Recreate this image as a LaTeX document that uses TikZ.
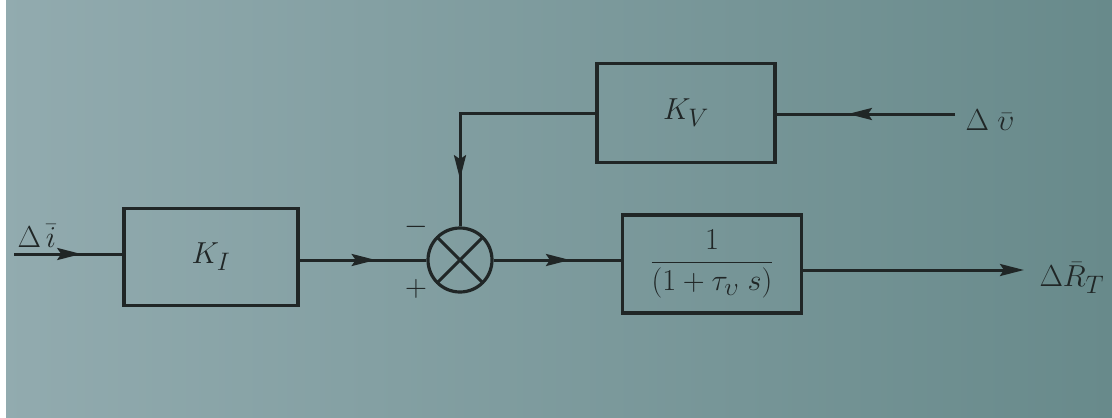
\documentclass[tikz,border=0pt]{standalone}
\usepackage{graphicx}
\usetikzlibrary{arrows.meta,decorations.markings}
\definecolor{bgl}{RGB}{146,171,175}
\definecolor{bgr}{RGB}{104,138,139}
\definecolor{ink}{RGB}{32,38,38}
\newcommand{\bigtxt}[1]{\scalebox{1.22}{\fontsize{24.88}{30}\selectfont #1}}
\begin{document}
\begin{tikzpicture}[x=1pt,y=-1pt,
  line width=3pt, draw=ink,
  blk/.style={draw=ink, line width=3.2pt, inner sep=0pt},
  lbl/.style={text=ink, inner sep=0pt},
  sumj/.style={draw=ink, line width=3.2pt, circle, minimum size=64pt, inner sep=0pt},
  midarrow/.style={postaction={decorate}, decoration={markings,
     mark=at position #1 with {\arrow{Stealth[length=24pt,width=12pt,inset=4pt]}}}}
]
\useasboundingbox (0,0) rectangle (1112,418);
\shade[left color=bgl, right color=bgr] (0,0) rectangle (1112,418);
\fill[white] (0,0) rectangle (6,418);

% blocks
\node[blk, minimum width=174pt, minimum height=97pt] (KI) at (211,257) {};
\node[lbl] at (KI.center) {\bigtxt{$K_I$}};
\node[blk, minimum width=178pt, minimum height=99pt] (KV) at (686,113) {};
\node[lbl] at (KV.center) {\bigtxt{$K_V$}};
\node[blk, minimum width=179pt, minimum height=98pt] (G) at (712,264) {};
\node[lbl] at (G.center) {\bigtxt{$\displaystyle\frac{1}{(1+\tau_{\upsilon}\;s)}$}};
\node[sumj] (S) at (460,260) {};
\draw[ink, line width=3pt] (S.center) ++(-22.6,-22.6) -- ++(45.2,45.2);
\draw[ink, line width=3pt] (S.center) ++(22.6,-22.6) -- ++(-45.2,45.2);

% signs
\node[lbl] (minus) at (416,227) {\bigtxt{$-$}};
\node[lbl] (plus) at (416,289) {\bigtxt{$+$}};

% terminals
\coordinate (inI) at (14,254);
\coordinate (inV) at (955,114);
\coordinate (outR) at (1024,270);
\node[lbl, anchor=west] (lI) at (16,236) {\bigtxt{$\Delta\,\bar{i}$}};
\node[lbl, anchor=west] (lV) at (964,120) {\bigtxt{$\Delta\;\bar{\upsilon}$}};
\node[lbl, anchor=west] (lR) at (1038,278) {\bigtxt{$\Delta\bar{R}_T$}};

% connectors
\draw[midarrow=0.62] (inI) -- (KI.west |- inI);
\draw[midarrow=0.60] (KI.east |- S.west) -- (S.west);
\draw[midarrow=0.60] (S.east) -- (G.west |- S.east);
\draw[-{Stealth[length=24pt,width=12pt,inset=4pt]}] (G.east |- outR) -- (outR);
\draw[midarrow=0.60] (inV) -- (KV.east |- inV);
\draw[midarrow=0.81] (KV.west) -| (S.north);
\end{tikzpicture}
\end{document}
